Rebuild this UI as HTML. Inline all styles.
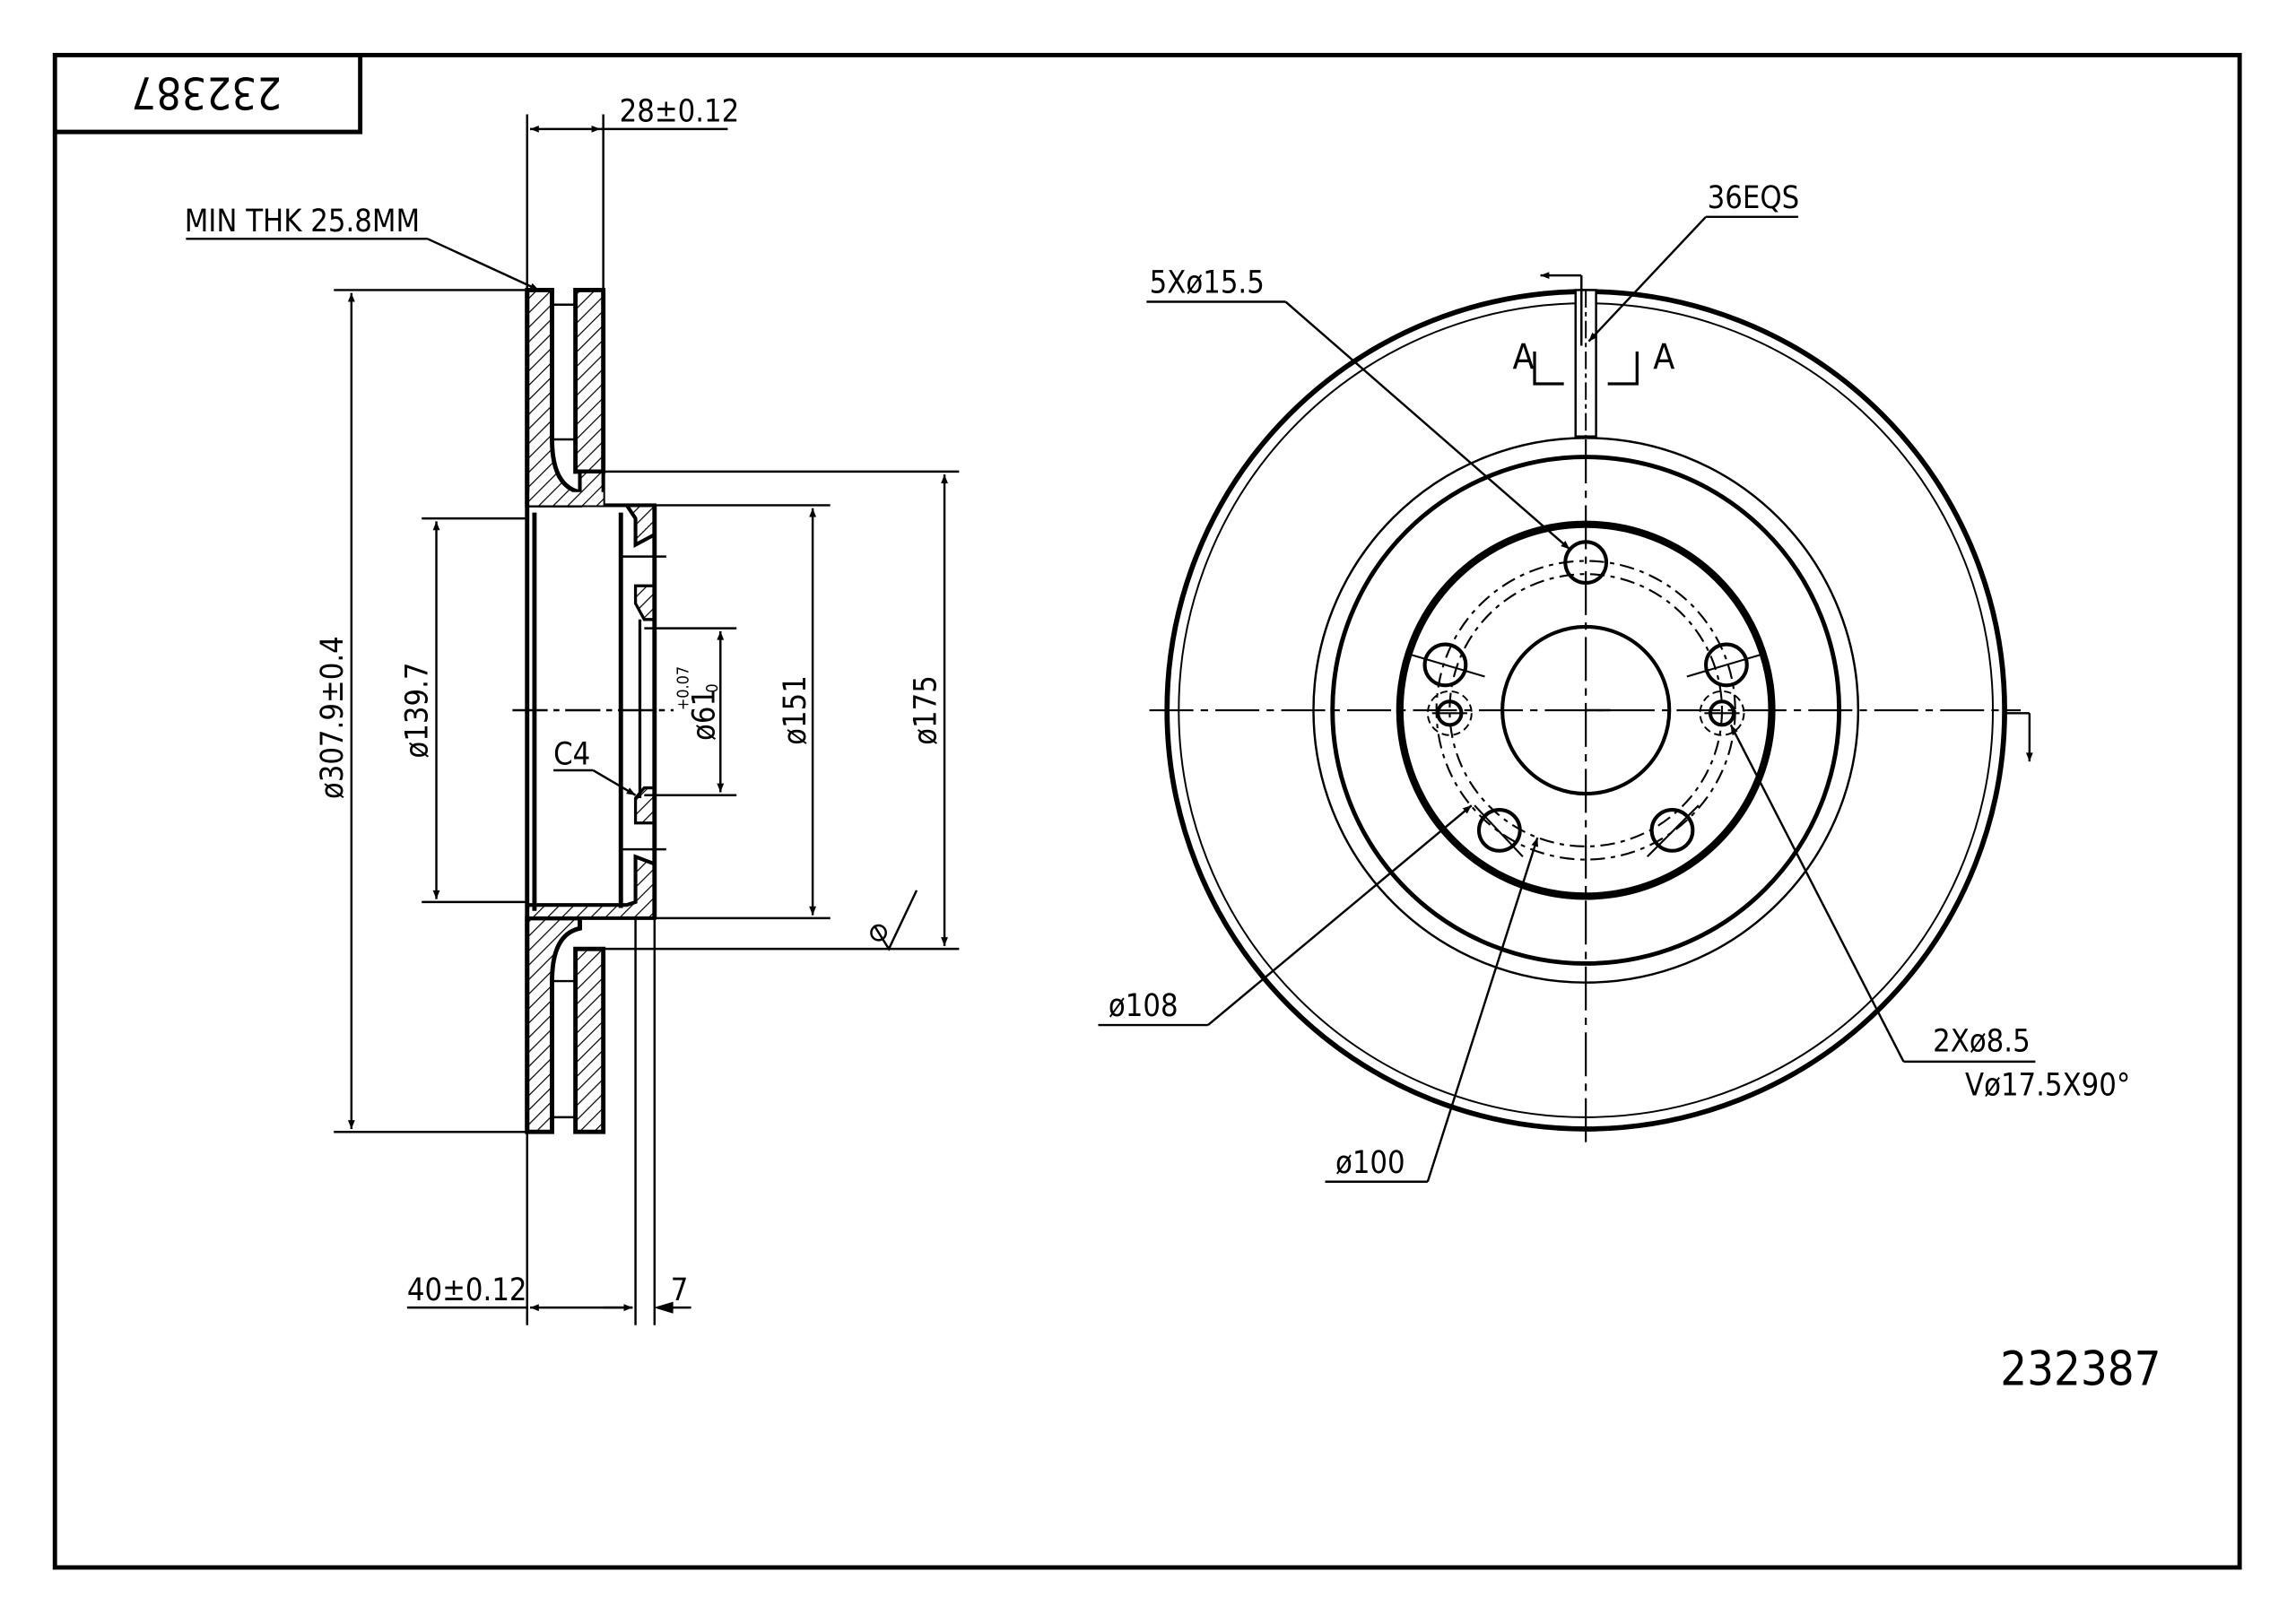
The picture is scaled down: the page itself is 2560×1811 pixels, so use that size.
<!DOCTYPE html>
<html><head><meta charset="utf-8"><style>
html,body{margin:0;padding:0;background:#fff;}
svg{display:block;}
text{font-family:"DejaVu Sans Condensed","Liberation Sans Narrow","Liberation Sans",sans-serif;fill:#000;}
</style></head><body>
<svg width="2560" height="1811" viewBox="0 0 1568 1109" xmlns="http://www.w3.org/2000/svg">
<defs>
<pattern id="h" patternUnits="userSpaceOnUse" width="7" height="7" patternTransform="rotate(45)">
<rect width="7" height="7" fill="#fff"/><line x1="0" y1="0" x2="0" y2="7" stroke="#000" stroke-width="1.5"/>
</pattern>
<marker id="a" viewBox="0 0 10 10" refX="10" refY="5" markerWidth="10" markerHeight="6" orient="auto-start-reverse" markerUnits="userSpaceOnUse"><path d="M0,1 L10,5 L0,9 z" fill="#000"/></marker>
</defs>
<rect x="0" y="0" width="1568" height="1109" fill="#fff"/>
<rect x="37.5" y="37.5" width="1492" height="1033" fill="none" stroke="#000" stroke-width="3"/>
<path d="M37.5 90 H246 V37.5" fill="none" stroke="#000" stroke-width="3"/>
<text x="141" y="64" font-size="30" text-anchor="middle" transform="rotate(180 141 64)" dy="11">232387</text>

<!-- SIDE VIEW -->
<g stroke="#000" fill="url(#h)">
<!-- outer left plate top -->
<path d="M360 198 H377 V300 Q377 332 396 336 V345 H360 Z" stroke-width="3"/>
<path d="M393 198 H412 V322 H393 Z" stroke-width="3"/>
<path d="M360 773 H377 V670 Q377 638 396 634 V627 H360 Z" stroke-width="3"/>
<path d="M393 773 H412 V648 H393 Z" stroke-width="3"/>
<!-- hub hat top -->
<path d="M360 345 H428 L434 354 V372 L447 365 V345 H412 V322 H396 V336 Z" stroke-width="2.5"/>
<path d="M360 345 H412 V336 H360 Z" stroke="none"/>
<path d="M434 400 H447 V423 L440 423 L434 412 Z" stroke-width="2"/>
<path d="M434 545 L440 538 H447 V562 H434 Z" stroke-width="2"/>
<path d="M360 627 H447 V590 L434 585 V616 L428 618 H360 Z" stroke-width="2.5"/>
</g>
<g stroke="#000" fill="none" stroke-width="3">
<line x1="360" y1="198" x2="360" y2="773"/>
<line x1="365" y1="350" x2="365" y2="622"/>
<line x1="424" y1="350" x2="424" y2="620"/>
<line x1="447" y1="345" x2="447" y2="627"/>
<line x1="437" y1="423" x2="437" y2="545" stroke-width="2"/>
<line x1="377" y1="300" x2="393" y2="300" stroke-width="1.5"/>
<line x1="377" y1="670" x2="393" y2="670" stroke-width="1.5"/>
<line x1="377" y1="208" x2="393" y2="208" stroke-width="1.5"/>
<line x1="377" y1="763" x2="393" y2="763" stroke-width="1.5"/>
</g>
<g stroke="#000" fill="none" stroke-width="1.5">
<!-- centerline -->
<line x1="350" y1="485" x2="460" y2="485" stroke-dasharray="24,4,4,4"/>
<!-- extension lines -->
<line x1="360" y1="78" x2="360" y2="198"/>
<line x1="412" y1="78" x2="412" y2="198"/>
<line x1="360" y1="773" x2="360" y2="905"/>
<line x1="434" y1="627" x2="434" y2="905"/>
<line x1="447" y1="627" x2="447" y2="905"/>
<line x1="228" y1="198" x2="360" y2="198"/>
<line x1="228" y1="773" x2="360" y2="773"/>
<line x1="288" y1="354" x2="360" y2="354"/>
<line x1="288" y1="616" x2="360" y2="616"/>
<line x1="447" y1="345" x2="567" y2="345"/>
<line x1="447" y1="627" x2="567" y2="627"/>
<line x1="412" y1="322" x2="655" y2="322"/>
<line x1="412" y1="648" x2="655" y2="648"/>
<line x1="440" y1="429" x2="503" y2="429"/>
<line x1="440" y1="543" x2="503" y2="543"/>
<line x1="424" y1="380" x2="455" y2="380"/>
<line x1="424" y1="580" x2="455" y2="580"/>
<!-- dims -->
<line x1="240" y1="200" x2="240" y2="771" marker-start="url(#a)" marker-end="url(#a)"/>
<line x1="298" y1="356" x2="298" y2="614" marker-start="url(#a)" marker-end="url(#a)"/>
<line x1="492" y1="431" x2="492" y2="541" marker-start="url(#a)" marker-end="url(#a)"/>
<line x1="555" y1="347" x2="555" y2="625" marker-start="url(#a)" marker-end="url(#a)"/>
<line x1="645" y1="324" x2="645" y2="646" marker-start="url(#a)" marker-end="url(#a)"/>
<line x1="362" y1="88" x2="410" y2="88" marker-start="url(#a)" marker-end="url(#a)"/>
<line x1="410" y1="88" x2="497" y2="88"/>
<line x1="362" y1="893" x2="432" y2="893" marker-start="url(#a)" marker-end="url(#a)"/>
<line x1="278" y1="893" x2="360" y2="893"/>
<line x1="412" y1="893" x2="432" y2="893"/>
<line x1="449" y1="893" x2="472" y2="893"/>
<path d="M449 893 L459 890 L459 896 Z" fill="#000"/>
<!-- MIN THK leader -->
<line x1="127" y1="163" x2="292" y2="163"/>
<line x1="292" y1="163" x2="368" y2="198" marker-end="url(#a)"/>
<!-- C4 leader -->
<line x1="378" y1="526" x2="405" y2="526"/>
<line x1="405" y1="526" x2="434" y2="543" marker-end="url(#a)"/>
<!-- roughness -->
<path d="M597 632 L607 648 L626 608"/>
<circle cx="600" cy="637" r="5"/>
</g>
<text x="126" y="158" font-size="21">MIN THK 25.8MM</text>
<text x="423" y="83" font-size="21">28±0.12</text>
<text x="278" y="888" font-size="21">40±0.12</text>
<text x="458" y="888" font-size="21">7</text>
<text x="378" y="522" font-size="21">C4</text>
<text transform="translate(234 490) rotate(-90)" font-size="21" text-anchor="middle">ø307.9±0.4</text>
<text transform="translate(292 485) rotate(-90)" font-size="21" text-anchor="middle">ø139.7</text>
<text transform="translate(488 488) rotate(-90)" font-size="21" text-anchor="middle">ø61</text>
<text transform="translate(470 470) rotate(-90)" font-size="11" text-anchor="middle">+0.07</text>
<text transform="translate(490 470) rotate(-90)" font-size="11" text-anchor="middle">0</text>
<text transform="translate(550 485) rotate(-90)" font-size="21" text-anchor="middle">ø151</text>
<text transform="translate(639 485) rotate(-90)" font-size="21" text-anchor="middle">ø175</text>

<!-- FRONT VIEW -->
<g stroke="#000" fill="none">
<circle cx="1083" cy="485" r="286" stroke-width="3.5"/>
<circle cx="1083" cy="485" r="278" stroke-width="1.2"/>
<circle cx="1083" cy="485" r="186" stroke-width="1.5"/>
<circle cx="1083" cy="485" r="173" stroke-width="3"/>
<circle cx="1083" cy="485" r="127" stroke-width="5"/>
<circle cx="1083" cy="485" r="57" stroke-width="2.5"/>
<circle cx="1083" cy="485" r="102" stroke-width="1.3" stroke-dasharray="10,4,3,4"/>
<circle cx="1083" cy="485" r="93" stroke-width="1.3" stroke-dasharray="10,4,3,4"/>
<line x1="785" y1="485" x2="1380" y2="485" stroke-width="1.3" stroke-dasharray="30,5,5,5"/>
<line x1="1083" y1="300" x2="1083" y2="785" stroke-width="1.3" stroke-dasharray="30,5,5,5"/>
<line x1="1083" y1="485" x2="1100" y2="485" stroke-width="1.5"/>
<!-- bolt holes -->
<g stroke-width="2.5">
<circle cx="1083" cy="384" r="14"/>
<circle cx="987" cy="454" r="14"/>
<circle cx="1179" cy="454" r="14"/>
<circle cx="1024" cy="567" r="14"/>
<circle cx="1142" cy="567" r="14"/>
<circle cx="990" cy="487" r="8"/>
<circle cx="1176" cy="487" r="8"/>
</g>
<circle cx="990" cy="487" r="15" stroke-width="1.2" stroke-dasharray="5,3"/>
<circle cx="1176" cy="487" r="15" stroke-width="1.2" stroke-dasharray="5,3"/>
<g stroke-width="1.3">
<line x1="960" y1="446" x2="1014" y2="462"/>
<line x1="1152" y1="462" x2="1206" y2="446"/>
<line x1="1007" y1="550" x2="1040" y2="585"/>
<line x1="1125" y1="585" x2="1160" y2="550"/>
<line x1="978" y1="487" x2="1002" y2="487"/>
<line x1="1164" y1="487" x2="1188" y2="487"/>
</g>
<!-- section marks -->
<rect x="1076" y="198" width="14" height="100" fill="#fff" stroke-width="1.5"/>
<line x1="1083" y1="198" x2="1083" y2="298" stroke-width="1.2" stroke-dasharray="12,3,3,3"/>
<path d="M1048 240 V262 H1068" stroke-width="2"/>
<path d="M1118 240 V262 H1098" stroke-width="2"/>
<line x1="1080" y1="188" x2="1080" y2="236" stroke-width="1.5"/>
<line x1="1080" y1="188" x2="1052" y2="188" stroke-width="1.5" marker-end="url(#a)"/>
<line x1="1370" y1="487" x2="1386" y2="487" stroke-width="1.5"/>
<line x1="1386" y1="487" x2="1386" y2="520" stroke-width="1.5" marker-end="url(#a)"/>
<!-- leaders -->
<g stroke-width="1.5">
<line x1="1165" y1="148" x2="1228" y2="148"/>
<line x1="1165" y1="148" x2="1085" y2="233" marker-end="url(#a)"/>
<line x1="783" y1="206" x2="878" y2="206"/>
<line x1="878" y1="206" x2="1072" y2="375" marker-end="url(#a)"/>
<line x1="750" y1="700" x2="825" y2="700"/>
<line x1="825" y1="700" x2="1005" y2="550" marker-end="url(#a)"/>
<line x1="905" y1="807" x2="975" y2="807"/>
<line x1="975" y1="807" x2="1050" y2="572" marker-end="url(#a)"/>
<line x1="1300" y1="725" x2="1390" y2="725"/>
<line x1="1300" y1="725" x2="1182" y2="495" marker-end="url(#a)"/>
</g>
</g>
<text x="1033" y="252" font-size="24">A</text>
<text x="1129" y="252" font-size="24">A</text>
<text x="1166" y="142" font-size="21">36EQS</text>
<text x="785" y="200" font-size="21">5Xø15.5</text>
<text x="757" y="694" font-size="21">ø108</text>
<text x="912" y="801" font-size="21">ø100</text>
<text x="1320" y="718" font-size="21">2Xø8.5</text>
<text x="1342" y="748" font-size="21">Vø17.5X90°</text>
<text x="1366" y="946" font-size="32">232387</text>
</svg>
</body></html>
